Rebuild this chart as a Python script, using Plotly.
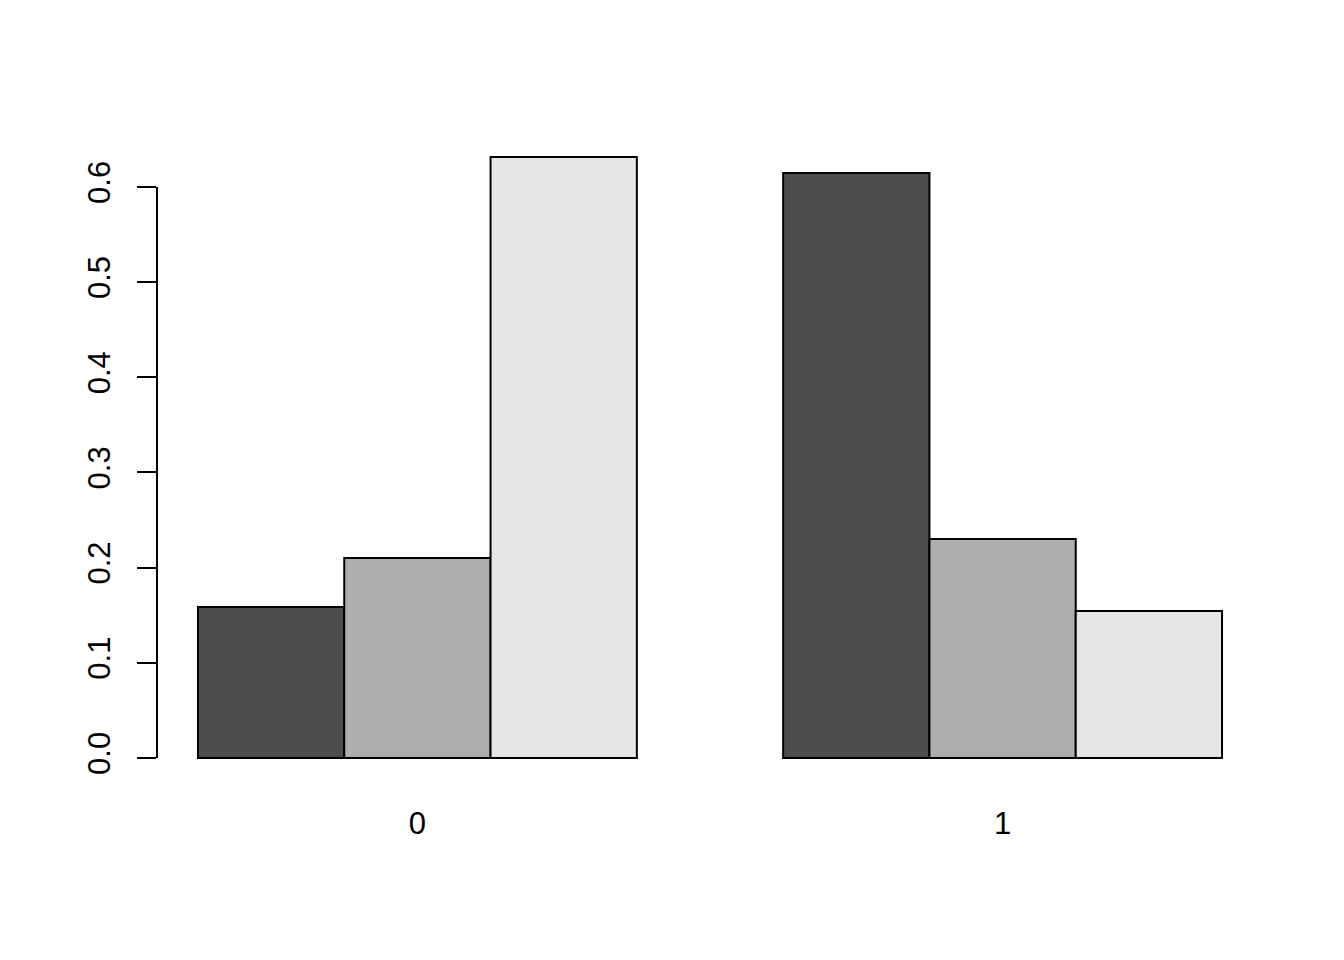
import plotly.graph_objects as go

categories = ["0", "1"]
series_names = ["a", "b", "c"]
values = {
    "a": [0.1587, 0.6147],
    "b": [0.2102, 0.2301],
    "c": [0.6315, 0.1545],
}
colors = ["#4D4D4D", "#AEAEAE", "#E6E6E6"]
y_ticks = [0.0, 0.1, 0.2, 0.3, 0.4, 0.5, 0.6]
y_tick_labels = ["0.0", "0.1", "0.2", "0.3", "0.4", "0.5", "0.6"]

FONT = dict(family="Liberation Sans, Arial, Helvetica, sans-serif", size=31, color="black")

fig = go.Figure()
for name, col in zip(series_names, colors):
    fig.add_trace(go.Bar(
        x=categories, y=values[name], name=name,
        marker=dict(color=col, line=dict(color="black", width=2)),
    ))

ymax = max(max(v) for v in values.values())
pad = 0.04 * ymax
fig.update_layout(
    width=1344, height=960,
    barmode="group", bargap=0.25, bargroupgap=0,
    plot_bgcolor="white", paper_bgcolor="white",
    showlegend=False,
    margin=dict(l=149, r=89, t=125, b=186, pad=0),
    font=FONT,
    xaxis=dict(
        type="category", range=[-0.445, 1.445], automargin=False,
        showline=False, showgrid=False, zeroline=False,
        ticks="", ticklabelstandoff=20, tickfont=FONT,
    ),
    yaxis=dict(
        range=[-pad, ymax + pad], automargin=False,
        tickvals=y_ticks, ticktext=y_tick_labels,
        tickangle=-90, ticks="outside", ticklen=19, tickwidth=2, tickcolor="black",
        showline=False, showgrid=False, zeroline=False,
        ticklabelstandoff=15, tickfont=FONT,
    ),
)
fig.add_shape(type="line", xref="paper", yref="y",
              x0=0, x1=0, y0=y_ticks[0], y1=y_ticks[-1],
              line=dict(color="black", width=2))

fig.write_html("out.html")
